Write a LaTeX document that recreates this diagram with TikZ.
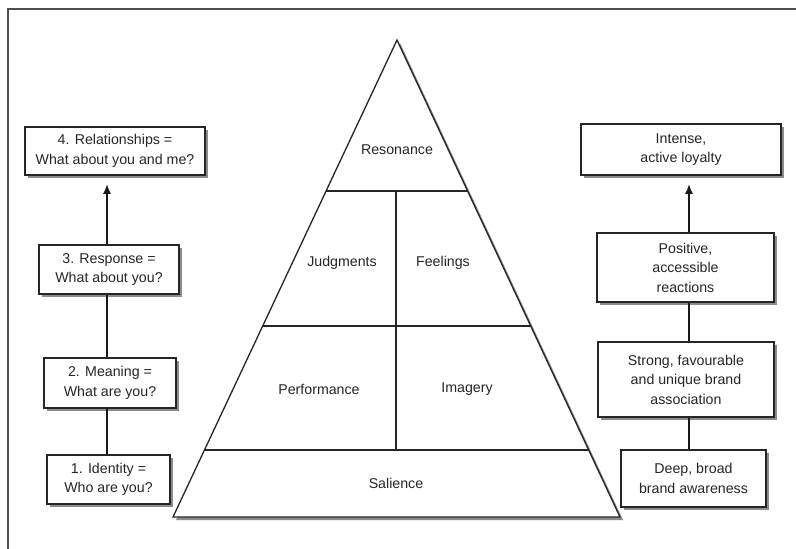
\documentclass[tikz,border=0pt]{standalone}
\usepackage{fontspec}
\setmainfont{Liberation Sans}
\usetikzlibrary{shadows,arrows.meta,calc}
\begin{document}
\begin{tikzpicture}[x=1pt,y=-1pt,
  font=\fontsize{14.2}{19.5}\selectfont,
  lbl/.style={text=black!85, inner sep=0pt},
  shad/.style={drop shadow={shadow xshift=3pt, shadow yshift=-3pt, fill=black!45, opacity=1}},
  box/.style={draw=black!85, line width=1.5pt, fill=white, align=center, inner sep=0pt,
    text=black!85, shad},
  conn/.style={draw=black!90, line width=2.8pt},
  arr/.style={conn, -{Latex[length=10pt,width=8pt]}, shorten >=8pt},
  pyr/.style={draw=black!85, line width=1.3pt},
  frame/.style={draw=black!70, line width=1.6pt}]
\useasboundingbox (0,0) rectangle (796,549);
\fill[white] (0,0) rectangle (796,549);
% frame
\coordinate (f0) at (8,549);
\coordinate (f1) at (8,9);
\coordinate (f2) at (796,9);
\draw[frame] (f0) -- (f1) -- (f2);
% pyramid
\coordinate (A) at (397,40);
\coordinate (BL) at (173,517);
\coordinate (BR) at (620,517);
\path[fill=white, pyr, shad] (A) -- (BL) -- (BR) -- cycle;
\coordinate (l1) at ($(A)!0.3166!(BL)$);
\coordinate (r1) at ($(A)!0.3166!(BR)$);
\coordinate (l2) at ($(A)!0.5996!(BL)$);
\coordinate (r2) at ($(A)!0.5996!(BR)$);
\coordinate (l3) at ($(A)!0.8595!(BL)$);
\coordinate (r3) at ($(A)!0.8595!(BR)$);
\coordinate (d1) at (396,191);
\coordinate (d3) at (396,450);
\draw[pyr] (l1) -- (r1);
\draw[pyr] (l2) -- (r2);
\draw[pyr] (l3) -- (r3);
\draw[pyr] (d1) -- (d3);
\node[lbl] (res) at (397,150) {Resonance};
\node[lbl] (jud) at (342,263) {Judgments};
\node[lbl] (fee) at (443,263) {Feelings};
\node[lbl] (per) at (319,389) {Performance};
\node[lbl] (ima) at (467,389) {Imagery};
\node[lbl] (sal) at (396,483) {Salience};
% left boxes
\node[box, minimum width=180pt, minimum height=48pt] (L4) at (115,151) {4. Relationships =\\What about you and me?};
\node[box, minimum width=140pt, minimum height=49pt] (L3) at (109,269.5) {3. Response =\\What about you?};
\node[box, minimum width=132pt, minimum height=50pt] (L2) at (110,383) {2. Meaning =\\What are you?};
\node[box, minimum width=123pt, minimum height=49pt] (L1) at (108.5,479.5) {1. Identity =\\Who are you?};
\coordinate (ls) at (107,0);
\draw[conn] (L1.north -| ls) -- (L2.south -| ls);
\draw[conn] (L2.north -| ls) -- (L3.south -| ls);
\draw[arr] (L3.north -| ls) -- (L4.south -| ls);
% right boxes
\node[box, minimum width=200pt, minimum height=51pt] (R4) at (681,149.5) {Intense,\\active loyalty};
\node[box, minimum width=177pt, minimum height=69pt] (R3) at (685.5,267.5) {Positive,\\accessible\\reactions};
\node[box, minimum width=176pt, minimum height=75pt] (R2) at (686,379.5) {Strong, favourable\\and unique brand\\association};
\node[box, minimum width=145pt, minimum height=57pt] (R1) at (693.5,478.5) {Deep, broad\\brand awareness};
\coordinate (rs) at (689,0);
\draw[conn] (R1.north -| rs) -- (R2.south -| rs);
\draw[conn] (R2.north -| rs) -- (R3.south -| rs);
\draw[arr] (R3.north -| rs) -- (R4.south -| rs);
\end{tikzpicture}
\end{document}
